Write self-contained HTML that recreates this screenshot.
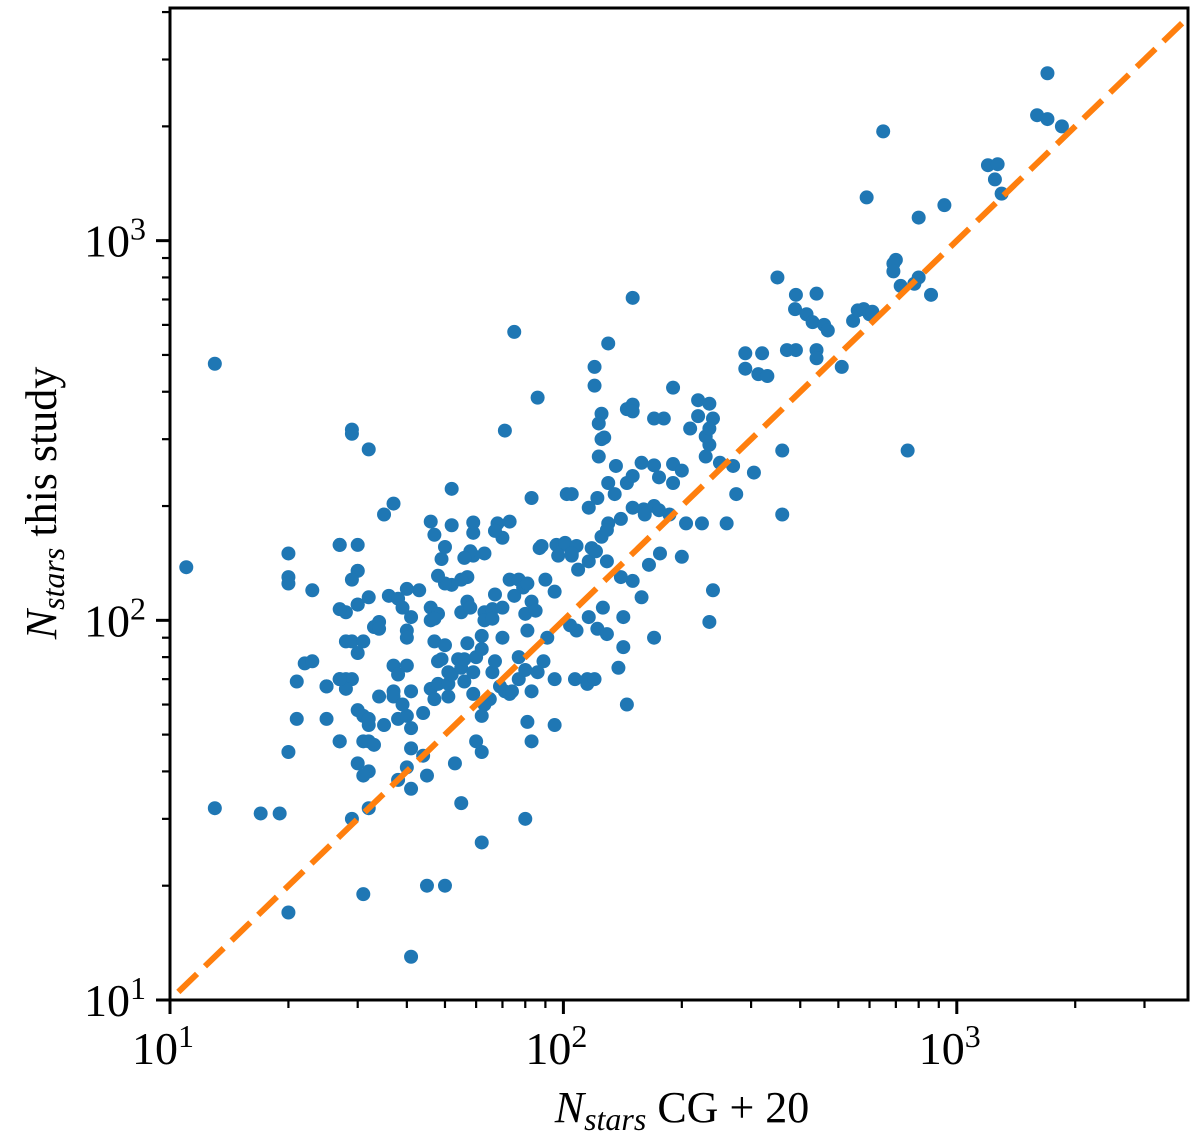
<!DOCTYPE html>
<html><head><meta charset="utf-8">
<style>
html,body{margin:0;padding:0;background:#fff;}
svg{display:block;}
text{font-family:"Liberation Serif","DejaVu Serif",serif;fill:#000;}
</style></head>
<body>
<svg id="chart" width="1200" height="1140" viewBox="0 0 1200 1140" xmlns="http://www.w3.org/2000/svg">
<g id="plot"></g>
<g id="axes"></g>
<text x="682" y="1122" text-anchor="middle" font-size="44"><tspan font-style="italic">N</tspan><tspan font-style="italic" font-size="32" dy="8">stars</tspan><tspan dy="-8"> CG + 20</tspan></text>
<text transform="translate(56,503) rotate(-90)" text-anchor="middle" font-size="44"><tspan font-style="italic">N</tspan><tspan font-style="italic" font-size="32" dy="8">stars</tspan><tspan dy="-8"> this study</tspan></text>
</svg>
<script>
const xValues = [11,13,13,17,19,20,20,20,20,20,21,21,23,22,23,25,25,27,27,27,28,29,29,28,28,30,30,29,30,30,31,32,35,37,
150,75,130,120,120,86,71,127,125,125,145,150,150,190,180,170,220,235,220,240,290,290,320,313,330,350,390,388,440,415,430,460,470,370,390,440,440,510,545,560,580,600,610,700,690,690,720,800,780,860,750,360,360,590,650,800,930,1200,1250,1270,1300,1600,1700,1700,1850,
170,190,235,230,235,230,270,305,275,160,170,150,140,130,135,145,150,123,123,130,102,105,83,88,96,100,145,115,107,62,62,50,45,41,235,
27,29,29,28,30,30,31,31,32,32,33,32,31,32,33,34,34,35,37,37,38,37,38,40,40,40,40,41,41,41,41,41,40,43,46,46,46,47,46,47,48,48,48,49,50,51,51,52,51,54,55,56,56,57,57,55,57,58,59,60,59,63,62,62,63,63,66,67,66,66,67,69,71,73,74,70,70,75,73,77,68,70,73,67,63,59,59,58,56,55,52,50,49,47,52,50,48,59,52,47,
25,27,27,27,30,29,30,31,32,36,34,38,39,40,
79,83,80,81,85,77,77,80,86,83,81,83,95,89,91,95,87,97,81,
101,105,108,116,118,121,125,129,129,109,108,116,104,122,129,126,142,142,138,150,158,161,175,186,176,200,175,158,122,116,136,200,250,
38,39,44,32,45,44,55,62,53,60,80,65,105,115,90,170,190,210,225,260,205,240,140,165,120,95];
const yValues = [138,474,32,31,31,17,150,130,125,45,55,69,120,77,78,67,55,158,48,70,105,318,310,88,70,158,135,30,42,110,19,282,190,203,
707,575,536,465,415,386,316,303,300,350,360,370,355,410,340,340,380,372,345,340,460,505,505,445,440,800,720,660,725,640,610,600,580,515,515,515,490,465,615,655,660,640,650,890,870,830,760,800,770,720,280,280,190,1300,1940,1150,1240,1580,1450,1590,1330,2140,2760,2090,2000,
256,258,290,305,320,270,255,245,215,196,200,198,185,180,215,230,240,270,330,230,215,215,210,157,158,158,60,68,70,26,45,20,20,13,99,
107,88,70,66,82,58,56,48,48,53,47,40,39,32,96,99,95,53,76,65,72,63,55,56,94,90,76,65,52,46,36,102,41,120,182,108,100,88,66,62,104,78,68,79,86,73,68,72,63,79,75,79,69,87,130,105,112,108,73,80,64,60,84,91,105,100,107,117,101,73,78,67,65,64,65,90,108,116,128,128,180,165,182,172,150,170,148,152,146,128,124,125,145,168,178,156,131,181,222,101,
67,70,48,158,135,128,110,88,115,116,63,114,108,121,
122,112,104,94,106,80,70,74,73,65,54,48,53,78,90,119,155,148,125,
160,148,157,143,155,152,166,173,143,136,94,102,97,95,92,108,102,85,75,127,115,190,195,190,150,147,238,260,210,198,255,248,260,
38,60,44,55,39,57,33,56,42,48,30,62,150,70,128,90,230,320,180,180,180,120,130,140,70,70];
const xTicks = [10,100,1000];
const xTickLabels = ["1","2","3"];
const yTicks = [10,100,1000];
const yTickLabels = ["1","2","3"];

const NS='http://www.w3.org/2000/svg';
const L=170,R=1188,T=8,B=1000;
const XMIN=10,XMAX=3870,YMIN=10,YMAX=4100;
function sx(v){return L+(Math.log10(v)-Math.log10(XMIN))/(Math.log10(XMAX)-Math.log10(XMIN))*(R-L);}
function sy(v){return B-(Math.log10(v)-Math.log10(YMIN))/(Math.log10(YMAX)-Math.log10(YMIN))*(B-T);}
function mk(tag,attrs,parent){const e=document.createElementNS(NS,tag);for(const k in attrs)e.setAttribute(k,attrs[k]);parent.appendChild(e);return e;}
const plot=document.getElementById('plot'),axes=document.getElementById('axes');
for(let i=0;i<xValues.length;i++){
  const c=mk('circle',{cx:sx(xValues[i]),cy:sy(yValues[i]),r:7,fill:'#1f77b4'},plot);
  
  
}
const ln=mk('line',{x1:sx(10.5),y1:sy(10.5),x2:sx(XMAX),y2:sy(XMAX),stroke:'#ff7f0e','stroke-width':6,'stroke-dasharray':'26,11'},plot);


const fr=mk('rect',{x:L,y:T,width:R-L,height:B-T,fill:'none',stroke:'#000','stroke-width':3},axes);


for(let d=1;d<=1000;d*=10){for(let m=1;m<=9;m++){const v=d*10*m/10;
  if(v>=XMIN&&v<=XMAX){const len=m===1?14:8;const t=mk('line',{x1:sx(v),y1:B,x2:sx(v),y2:B+len,stroke:'#000','stroke-width':m===1?3:2.2},axes);
    
    }
  if(v>=YMIN&&v<=YMAX){const len=m===1?14:8;const t=mk('line',{x1:L-len,y1:sy(v),x2:L,y2:sy(v),stroke:'#000','stroke-width':m===1?3:2.2},axes);
    
    }
}}
xTicks.forEach((v,i)=>{const t=mk('text',{x:sx(v)-7,y:1064,'text-anchor':'middle','font-size':46},axes);
  
  
  t.textContent='10';const s=mk('tspan',{dy:-17,'font-size':32},t);s.textContent=xTickLabels[i];});
yTicks.forEach((v,i)=>{const t=mk('text',{x:146,y:sy(v)+16,'text-anchor':'end','font-size':46},axes);
  
  
  t.textContent='10';const s=mk('tspan',{dy:-17,'font-size':32},t);s.textContent=yTickLabels[i];});
</script>
</body></html>
